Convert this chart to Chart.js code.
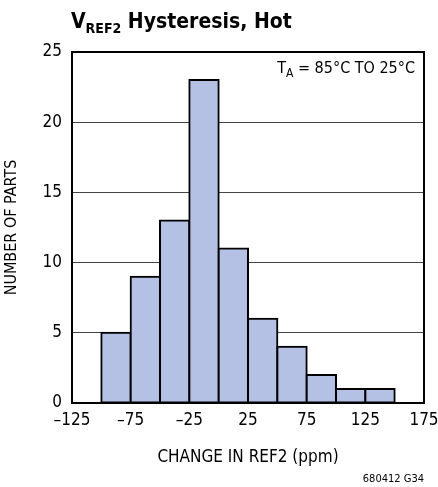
<!DOCTYPE html>
<html>
<head>
<meta charset="utf-8">
<script src="https://cdn.jsdelivr.net/npm/chart.js@4/dist/chart.umd.min.js"></script>
<style>
  html, body { margin: 0; padding: 0; background: #fff; }
  #wrap { width: 438px; height: 487px; }
</style>
</head>
<body>
<div id="wrap"><canvas id="hist"></canvas></div>
<script>
// histogram bins (centre of each 25 ppm wide bin) and counts
let binCenters = [-87.5, -62.5, -37.5, -12.5, 12.5, 37.5, 62.5, 87.5, 112.5, 137.5]
let counts = [5, 9, 13, 23, 11, 6, 4, 2, 1, 1]
let xTicks = [-125, -75, -25, 25, 75, 125, 175]
let yTicks = [0, 5, 10, 15, 20, 25]

const FONT = "'Liberation Sans Narrow', 'DejaVu Sans Condensed', 'Liberation Sans', sans-serif"

let points = []
binCenters.forEach((c, i) => {
    points.push({ x: c, y: counts[i] })
})

const textPlugin = {
    id: 'texts',
    afterDraw(chart) {
        const ctx = chart.ctx
        const area = chart.chartArea
        ctx.save()

        // frame
        ctx.strokeStyle = '#000'
        ctx.lineWidth = 2
        ctx.strokeRect(area.left, area.top, area.right - area.left, area.bottom - area.top)

        // title with subscript
        ctx.fillStyle = '#000'
        ctx.textBaseline = 'alphabetic'
        ctx.textAlign = 'left'
        let x = 71
        ctx.font = `bold 21px ${FONT}`
        ctx.fillText('V', x, 28)
        x += ctx.measureText('V').width
        ctx.font = `bold 14px ${FONT}`
        ctx.fillText('REF2', x, 33)
        x += ctx.measureText('REF2').width
        ctx.font = `bold 21px ${FONT}`
        ctx.fillText(' Hysteresis, Hot', x, 28)

        // condition label, right aligned
        ctx.font = `16px ${FONT}`
        let rest = ' = 85°C TO 25°C'
        let right = 415
        let wRest = ctx.measureText(rest).width
        ctx.font = `12px ${FONT}`
        let wA = ctx.measureText('A').width
        ctx.font = `16px ${FONT}`
        let wT = ctx.measureText('T').width
        let start = right - wRest - wA - wT
        ctx.fillText('T', start, 73)
        ctx.font = `12px ${FONT}`
        ctx.fillText('A', start + wT, 77)
        ctx.font = `16px ${FONT}`
        ctx.fillText(rest, start + wT + wA, 73)

        // figure code
        ctx.font = `11px ${FONT}`
        ctx.textAlign = 'right'
        ctx.fillText('680412 G34', 424, 482)
        ctx.restore()
    }
}

new Chart(document.getElementById('hist').getContext('2d'), {
    type: 'bar',
    data: {
        datasets: [{
            data: points,
            backgroundColor: '#b4c0e4',
            borderColor: '#000',
            borderWidth: 2,
            borderSkipped: false,
            inflateAmount: 1,
            barPercentage: 1,
            categoryPercentage: 1
        }]
    },
    options: {
        responsive: true,
        maintainAspectRatio: false,
        animation: false,
        layout: { padding: { left: 0, top: 52, right: 14, bottom: 14 } },
        plugins: { legend: { display: false }, tooltip: { enabled: false } },
        scales: {
            x: {
                type: 'linear',
                offset: false,
                min: -125, max: 175,
                afterBuildTicks: scale => { scale.ticks = xTicks.map(v => ({ value: v })) },
                afterFit: scale => {
                    scale.height = 70
                    scale.paddingLeft = 0
                    scale.paddingRight = 0
                },
                ticks: {
                    color: '#000',
                    font: { family: FONT, size: 17 },
                    padding: 7,
                    maxRotation: 0,
                    callback: v => String(v).replace('-', '\u2013')
                },
                grid: { display: false, drawTicks: false, offset: false },
                border: { display: false },
                title: {
                    display: true,
                    text: 'CHANGE IN REF2 (ppm)',
                    color: '#000',
                    font: { family: FONT, size: 17 },
                    padding: { top: 0, bottom: 5 }
                }
            },
            y: {
                min: 0, max: 25,
                afterBuildTicks: scale => { scale.ticks = yTicks.map(v => ({ value: v })) },
                afterFit: scale => { scale.width = 72 },
                ticks: {
                    color: '#000',
                    font: { family: FONT, size: 17 },
                    padding: 10
                },
                grid: { color: '#444', lineWidth: 1, drawTicks: false },
                border: { display: false },
                title: {
                    display: true,
                    text: 'NUMBER OF PARTS',
                    color: '#000',
                    font: { family: FONT, size: 16 },
                    padding: { top: 2, bottom: 0 }
                }
            }
        }
    },
    plugins: [textPlugin]
})
</script>
</body>
</html>
